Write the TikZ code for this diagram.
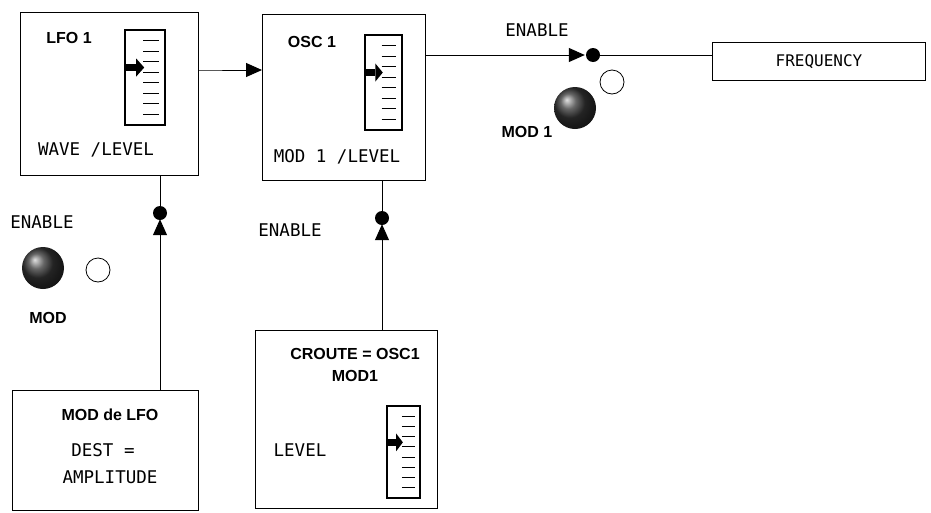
\documentclass[tikz,border=0pt]{standalone}
\usepackage{fontspec}
\setmainfont{Liberation Sans}
\newfontfamily\dotf{DejaVu Sans Mono}
\usetikzlibrary{arrows.meta}
\tikzset{
 box/.style={draw,line width=1pt},
 lbl/.style={font=\fontsize{16}{19}\selectfont\bfseries},
 lblb/.style={font=\fontsize{16}{19}\selectfont\bfseries},
 dm/.style={font=\fontsize{17.5}{21}\selectfont\dotf},
 conn/.style={line width=1pt},
 tip/.style={-{Triangle[length=16pt,width=14pt]}},
 jdot/.style={circle,fill=black,inner sep=0,minimum size=14pt},
 ocirc/.style={circle,draw,line width=0.8pt,inner sep=0,minimum size=24pt},
 ball/.style={circle,ball color=black!80,inner sep=0,minimum size=42pt},
}
\newcommand{\slider}[4]{% x1 y1 x2 y2
 \draw[line width=1.2pt] (#1,#2) rectangle (#3,#4);
 \foreach \i in {1,...,8}{\draw[line width=1.2pt] ({#1+0.45*(#3-#1)},{#2+\i*(#4-#2)/9}) -- ({#1+0.85*(#3-#1)},{#2+\i*(#4-#2)/9});}
 \fill ({#1},{#2+0.36*(#4-#2)}) rectangle ({#1+0.28*(#3-#1)},{#2+0.43*(#4-#2)});
 \fill ({#1+0.28*(#3-#1)},{#2+0.30*(#4-#2)}) -- ({#1+0.48*(#3-#1)},{#2+0.395*(#4-#2)}) -- ({#1+0.28*(#3-#1)},{#2+0.49*(#4-#2)}) -- cycle;}
\begin{document}
\begin{tikzpicture}[x=1pt,y=-1pt]
\useasboundingbox (0,0) rectangle (931,512);
% boxes
\node[box,minimum width=178pt,minimum height=163pt,anchor=north west] (lfo) at (20,12) {};
\node[box,minimum width=163pt,minimum height=166pt,anchor=north west] (osc) at (262,14) {};
\node[box,minimum width=213pt,minimum height=38pt,anchor=north west,font=\fontsize{16}{18}\selectfont\dotf] (freq) at (712,42) {FREQUENCY};
\node[box,minimum width=186pt,minimum height=120pt,anchor=north west] (dest) at (12,390) {};
\node[box,minimum width=182pt,minimum height=178pt,anchor=north west] (crt) at (255,330) {};
% texts in boxes
\node[lbl] (t1) at (69,38) {LFO 1};
\node[dm] (t2) at (96,150) {WAVE /LEVEL};
\node[lbl] (t3) at (312,42) {OSC 1};
\node[dm] (t4) at (337,157) {MOD 1 /LEVEL};
\node[lbl] (t5) at (110,415) {MOD de LFO};
\node[dm] (t6) at (103,450) {DEST =};
\node[dm] (t7) at (110,477) {AMPLITUDE};
\node[lbl] (t8) at (355,354) {CROUTE = OSC1};
\node[lbl] (t9) at (355,376) {MOD1};
\node[dm] (t10) at (300,450) {LEVEL};
% sliders
\slider{125}{30}{165}{125}
\slider{365}{35}{402}{130}
\slider{387}{406}{420}{498}
% top connector
\coordinate (a1) at (198,70);
\draw[conn,tip] (a1) -- (lfo.east |- a1) -- (osc.west |- a1);
\node[jdot] (d1) at (593,55) {};
\coordinate (o1) at (425,55);
\draw[conn,tip] (o1) -- ([xshift=-1pt]d1.west);
\draw[conn] (d1) -- (freq.west |- d1);
\node[dm] (e1) at (537,30) {ENABLE};
\node[ocirc] (c1) at (612,82) {};
\node[ball] (b1) at (575,108) {};
\node[lblb] (m1) at (527,132) {MOD 1};
% left vertical
\node[jdot] (d2) at (160,213) {};
\draw[conn] (lfo.south -| d2) -- (d2);
\draw[conn,tip] (dest.north -| d2) -- ([yshift=1pt]d2.south);
\node[dm] (e2) at (42,222) {ENABLE};
\node[ball] (b2) at (43,268) {};
\node[ocirc] (c2) at (98,270) {};
\node[lblb] (m2) at (48,318) {MOD};
% middle vertical
\node[jdot] (d3) at (382,218) {};
\draw[conn] (osc.south -| d3) -- (d3);
\draw[conn,tip] (crt.north -| d3) -- ([yshift=1pt]d3.south);
\node[dm] (e3) at (290,230) {ENABLE};
\end{tikzpicture}
\end{document}
